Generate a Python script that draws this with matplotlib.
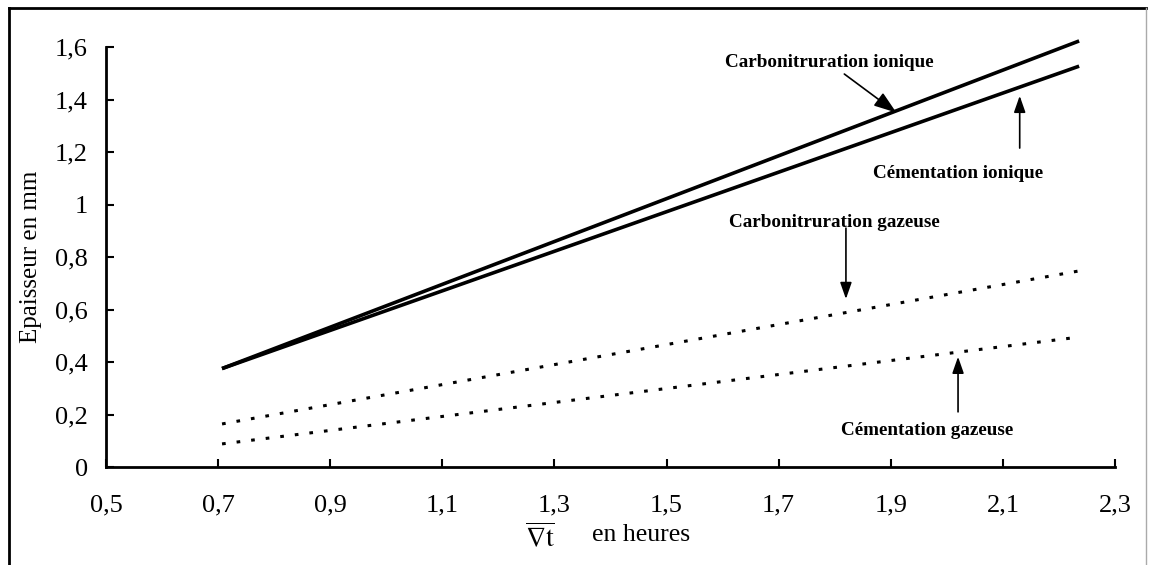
import matplotlib.pyplot as plt
from matplotlib.lines import Line2D

plt.rcParams['font.family'] = ['Liberation Serif', 'DejaVu Serif']
plt.rcParams['mathtext.fontset'] = 'stix'

# racine du temps (h^1/2) : t de 0,5 h a 5 h
sqrt_t = [0.707, 2.236]

carbo_ionique = [0.375, 1.623]
cement_ionique = [0.375, 1.527]
carbo_gazeuse = [0.164, 0.747]
cement_gazeuse = [0.088, 0.495]

x_ticks = [0.5, 0.7, 0.9, 1.1, 1.3, 1.5, 1.7, 1.9, 2.1, 2.3]
y_ticks = [0, 0.2, 0.4, 0.6, 0.8, 1.0, 1.2, 1.4, 1.6]


def fr(v):
    s = ('%g' % v)
    return s.replace('.', ',')


def main():
    fig = plt.figure(figsize=(11.49, 5.65), dpi=100)
    ax = fig.add_axes([106 / 1149, 98 / 565, 1009 / 1149, 420 / 565])

    ax.plot(sqrt_t, carbo_ionique, color='black', lw=2.6, solid_capstyle='butt', clip_on=False)
    ax.plot(sqrt_t, cement_ionique, color='black', lw=2.6, solid_capstyle='butt', clip_on=False)
    ax.plot(sqrt_t, carbo_gazeuse, color='black', lw=2.2, ls=(0, (1.2, 3.6)))
    ax.plot(sqrt_t, cement_gazeuse, color='black', lw=2.2, ls=(0, (1.2, 3.6)))

    ax.set_xlim(0.5, 2.3)
    ax.set_ylim(0, 1.6)
    ax.set_xticks(x_ticks)
    ax.set_xticklabels([fr(v) for v in x_ticks])
    ax.set_yticks(y_ticks)
    ax.set_yticklabels([fr(v) for v in y_ticks])
    ax.tick_params(direction='in', length=6, width=1.5, labelsize=19)
    ax.tick_params(axis='x', pad=20)
    ax.tick_params(axis='y', pad=13)
    for side in ['top', 'right']:
        ax.spines[side].set_visible(False)
    for side in ['left', 'bottom']:
        ax.spines[side].set_linewidth(2)

    ax.set_ylabel('Epaisseur en mm', fontsize=18, labelpad=9)

    fig.text(540 / 1149, 1 - 538 / 565, r'$\overline{\nabla\mathrm{t}}$', fontsize=20,
             ha='center', va='center')
    fig.text(641 / 1149, 1 - 535 / 565, 'en heures', fontsize=18.5, ha='center', va='center')

    arrow = dict(arrowstyle='-|>,head_length=1.0,head_width=0.35', color='black', lw=1.2,
                 shrinkA=0, shrinkB=0)
    lab = dict(fontsize=13.8, ha='center', va='center', fontweight='bold')
    ax.annotate('Carbonitruration ionique', xy=(1.91, 1.35), xytext=(1.79, 1.54),
                arrowprops=arrow, **lab)
    ax.annotate('', xy=(2.13, 1.414), xytext=(2.13, 1.215), arrowprops=arrow)
    ax.text(2.02, 1.12, 'Cémentation ionique', **lab)
    ax.text(1.80, 0.93, 'Carbonitruration gazeuse', **lab)
    ax.annotate('', xy=(1.82, 0.64), xytext=(1.82, 0.91), arrowprops=arrow)
    ax.annotate('', xy=(2.02, 0.42), xytext=(2.02, 0.21), arrowprops=arrow)
    ax.text(1.965, 0.14, 'Cémentation gazeuse', **lab)

    # cadre autour de la figure
    fig.add_artist(Line2D([9 / 1149, 1146 / 1149], [1 - 8 / 565, 1 - 8 / 565],
                          transform=fig.transFigure, color='black', lw=2))
    fig.add_artist(Line2D([9 / 1149, 9 / 1149], [0, 1 - 8 / 565],
                          transform=fig.transFigure, color='black', lw=2))
    fig.add_artist(Line2D([1146 / 1149, 1146 / 1149], [0, 1 - 8 / 565],
                          transform=fig.transFigure, color='#aaaaaa', lw=1))

    fig.savefig('out.png', dpi=100)


if __name__ == "__main__":
    main()
